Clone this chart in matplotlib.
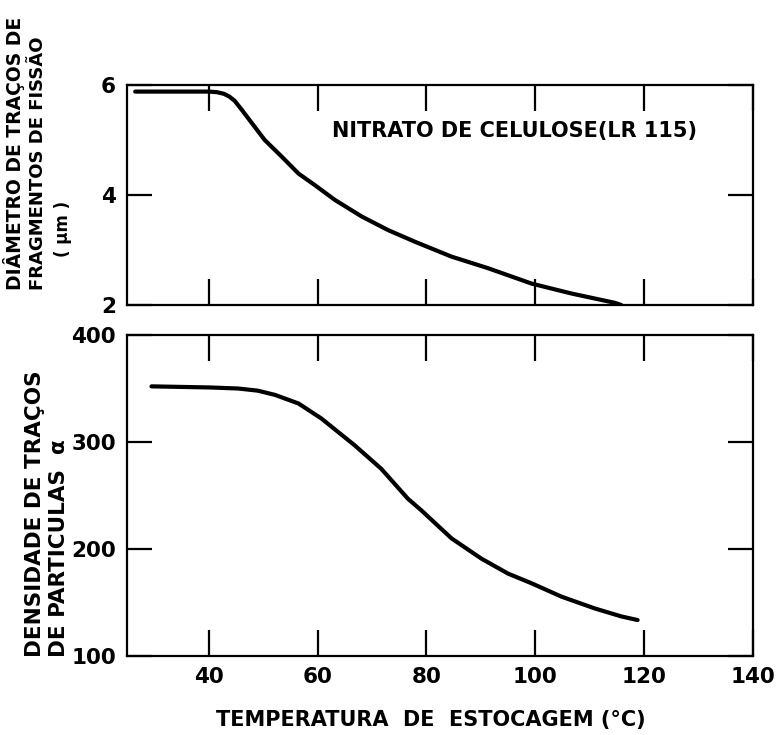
import matplotlib
matplotlib.use("Agg")
import matplotlib.pyplot as plt

# top panel: track diameter of fission fragments (um)
temp_top = [26.5, 40, 41.5, 42.8, 43.8, 44.8, 46, 47.3, 50.3, 53.4, 56.5, 59.5,
            63.2, 68.1, 73, 77.9, 84.6, 91.3, 99.3, 106.6, 114.6, 115.8]
diam = [5.88, 5.88, 5.87, 5.84, 5.79, 5.71, 5.56, 5.39, 5.00, 4.70, 4.39, 4.18,
        3.91, 3.61, 3.36, 3.15, 2.88, 2.67, 2.39, 2.21, 2.04, 2.0]

# bottom panel: alpha track density
temp_bot = [29.5, 40, 45.4, 49, 52.2, 56.5, 60.7, 66.8, 71.7, 76.6, 79.1, 84.6,
            90.1, 95, 99.3, 104.8, 110.9, 115.8, 118.8]
dens = [352, 351, 350, 348, 344, 336, 322, 297, 275, 247, 236, 210,
        191, 177, 168, 155.5, 144.5, 137, 133.6]

x_ticks = [40, 60, 80, 100, 120, 140]
top_yticks = [2, 4, 6]
bot_yticks = [100, 200, 300, 400]

W, H = 778, 735
fig = plt.figure(figsize=(W / 100, H / 100), dpi=100)

def px_axes(left, top, right, bottom):
    return fig.add_axes([left / W, 1 - bottom / H, (right - left) / W, (bottom - top) / H])

ax1 = px_axes(127, 85, 753, 305)
ax2 = px_axes(127, 335, 753, 656)

for ax in (ax1, ax2):
    ax.set_xlim(25, 140)
    ax.set_xticks(x_ticks)
    for s in ax.spines.values():
        s.set_linewidth(1.6)
    ax.tick_params(axis="x", direction="in", length=19, width=1.6,
                   top=True, bottom=True, pad=8)
    ax.tick_params(axis="y", direction="in", length=18, width=1.6,
                   left=True, right=True, pad=8)

ax1.plot(temp_top, diam, color="black", lw=3, solid_capstyle="round")
ax1.set_ylim(2, 6)
ax1.set_yticks(top_yticks)
ax1.set_yticklabels([str(v) for v in top_yticks], fontweight="bold", fontsize=15.5)
ax1.tick_params(axis="x", labelbottom=False)
ax1.text(0.327, 0.79, "NITRATO DE CELULOSE(LR 115)", transform=ax1.transAxes,
         ha="left", va="center", fontsize=15, fontweight="bold")

ax2.plot(temp_bot, dens, color="black", lw=3, solid_capstyle="round")
ax2.set_ylim(100, 400)
ax2.set_yticks(bot_yticks)
ax2.set_yticklabels([str(v) for v in bot_yticks], fontweight="bold", fontsize=15.5)
ax2.set_xticklabels([str(v) for v in x_ticks], fontweight="bold", fontsize=15.5)

fig.text(431 / W, 1 - 720 / H, "TEMPERATURA  DE  ESTOCAGEM (°C)",
         ha="center", va="center", fontsize=15, fontweight="bold")

def vlabel(xpx, ypx, s, size):
    fig.text(xpx / W, 1 - ypx / H, s, rotation=90, rotation_mode="anchor",
             ha="left", va="center", fontsize=size, fontweight="bold")

vlabel(14, 290, "DIÂMETRO DE TRAÇOS DE", 13.5)
vlabel(38, 290, "FRAGMENTOS DE FISSÃO", 13)
vlabel(63, 257, "( μm )", 12)
vlabel(35, 657, "DENSIDADE DE TRAÇOS", 15.5)
vlabel(59, 657, "DE PARTICULAS  α", 15.5)

fig.savefig("out.png", dpi=100)
